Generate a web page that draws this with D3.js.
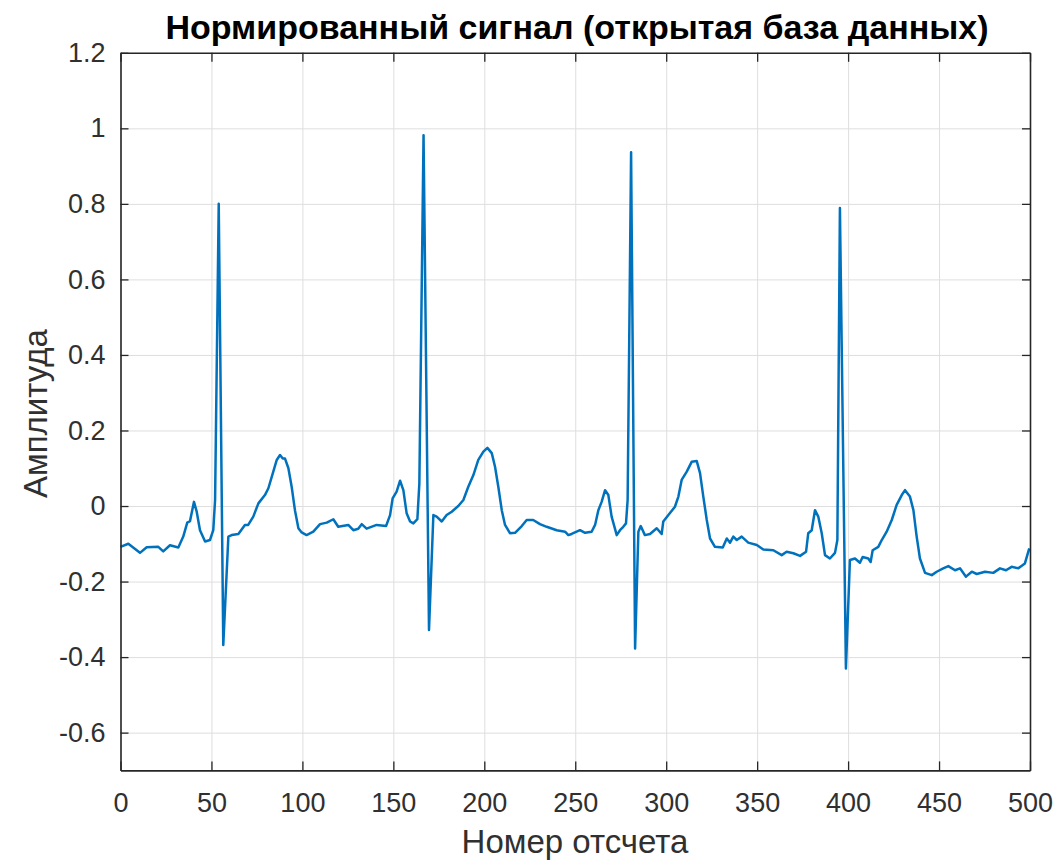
<html>
<head>
<meta charset="utf-8">
<script src="https://d3js.org/d3.v7.min.js"></script>
<style>
body { margin: 0; background: #fff; }
text { font-family: 'Liberation Sans', Arial, sans-serif; }
.axis path, .axis line { stroke: #262626; }
.axis text { fill: #303030; font-size: 27px; }
.grid line { stroke: #dedede; }
.grid path { display: none; }
</style>
</head>
<body>
<svg width="1062" height="862"></svg>
<script>
// signal: sample number and amplitude
var sampleIdx = [0, 4.3, 10.7, 14.4, 20.8, 23.5, 27.2, 31.8, 34.5, 36.7, 38.2, 40.4, 41.9, 43.7, 46.5, 49.2, 51, 52, 54, 56.5,
  59.3, 61.1, 64.8, 68.4, 70.2, 73, 75.8, 79.4, 81.3, 84, 85.9, 87.7, 89.2, 90.4, 92.3, 94.1, 95.9, 97.8, 99.6, 102.3,
  106, 109.7, 113.4, 117, 119.7, 125.2, 128, 130.7, 132.6, 135.3, 140.8, 146, 148.2, 149.6, 151.8, 153.7, 155.5, 157.3, 159.2, 161,
  163.2, 164.3, 166.6, 169.6, 172, 173.8, 176.6, 179.3, 182.1, 185.7, 188.5, 191.2, 194, 196.7, 199.5, 201.7, 204.1, 205.9, 207.7, 209.6,
  211.4, 214.1, 216.9, 220.6, 223.3, 226.9, 230.6, 234.3, 239.8, 244.4, 246.2, 248, 252.6, 255.4, 259, 260.9, 262.7, 264.5, 266.4, 268.2,
  270, 272.8, 274.6, 276.4, 277.9, 278.8, 280.7, 282.9, 284.7, 286, 288.3, 291.1, 294.8, 297.5, 298.4, 301.2, 304.8, 306.7, 308.5, 311.3,
  314, 316.8, 318.6, 320.4, 322.3, 324.1, 326.8, 331.1, 333.3, 335.1, 336.9, 338.8, 341.5, 345.1, 349.8, 353.4, 358.9, 363.5, 366.2, 369.9,
  373.6, 376.9, 378.1, 380, 381.8, 383.6, 385.5, 387.3, 390, 392.8, 394.1, 395.5, 398.8, 401, 403.8, 406.5, 408, 411.1, 412.4, 413.5,
  416.6, 418.5, 421.2, 424, 426.7, 429.5, 431.3, 434, 435.9, 437.7, 439.5, 442.3, 446, 448.7, 452.3, 455.1, 458.8, 461.5, 464.8, 468,
  470.7, 475.3, 479.8, 483.5, 486.8, 489.9, 493.6, 497.2, 499.6];
var amplitude = [-0.108, -0.10, -0.124, -0.109, -0.108, -0.12, -0.104, -0.11, -0.081, -0.044, -0.04, 0.011, -0.015, -0.064, -0.094, -0.09, -0.064, 0.016, 0.80, -0.368,
  -0.081, -0.077, -0.074, -0.05, -0.05, -0.028, 0.007, 0.029, 0.047, 0.091, 0.122, 0.135, 0.126, 0.126, 0.10, 0.051, -0.011, -0.059, -0.07, -0.077,
  -0.068, -0.048, -0.044, -0.035, -0.055, -0.05, -0.064, -0.06, -0.048, -0.06, -0.05, -0.053, -0.024, 0.02, 0.038, 0.067, 0.042, -0.019, -0.041, -0.046,
  -0.035, 0.06, 0.982, -0.328, -0.024, -0.028, -0.041, -0.024, -0.015, 0.0, 0.016, 0.051, 0.082, 0.122, 0.144, 0.154, 0.14, 0.104, 0.051, -0.011,
  -0.05, -0.072, -0.071, -0.053, -0.037, -0.037, -0.048, -0.055, -0.064, -0.068, -0.077, -0.074, -0.064, -0.071, -0.068, -0.05, -0.011, 0.011, 0.042, 0.029,
  -0.028, -0.077, -0.064, -0.055, -0.046, 0.016, 0.937, -0.377, -0.068, -0.053, -0.077, -0.074, -0.059, -0.074, -0.041, -0.024, -0.002, 0.025, 0.069, 0.091,
  0.117, 0.119, 0.087, 0.025, -0.037, -0.086, -0.108, -0.11, -0.086, -0.097, -0.081, -0.09, -0.081, -0.097, -0.103, -0.115, -0.117, -0.13, -0.121, -0.125,
  -0.132, -0.121, -0.072, -0.064, -0.011, -0.028, -0.072, -0.13, -0.139, -0.124, -0.09, 0.789, -0.43, -0.143, -0.139, -0.15, -0.135, -0.139, -0.148, -0.117,
  -0.108, -0.09, -0.068, -0.037, 0.003, 0.029, 0.042, 0.025, -0.011, -0.081, -0.139, -0.177, -0.183, -0.174, -0.165, -0.159, -0.17, -0.165, -0.187, -0.174,
  -0.18, -0.174, -0.177, -0.165, -0.17, -0.161, -0.165, -0.152, -0.112];

var xTicks = [0, 50, 100, 150, 200, 250, 300, 350, 400, 450, 500];
var yTicks = [-0.6, -0.4, -0.2, 0, 0.2, 0.4, 0.6, 0.8, 1, 1.2];
var yTickLabels = ['-0.6', '-0.4', '-0.2', '0', '0.2', '0.4', '0.6', '0.8', '1', '1.2'];

var titleText = 'Нормированный сигнал (открытая база данных)';
var xLabel = 'Номер отсчета';
var yLabel = 'Амплитуда';

var padL = 120.5, padT = 52.8, w = 909.5, h = 717.6;

var svg = d3.select('svg');
var g = svg.append('g').attr('transform', 'translate(' + padL + ',' + padT + ')');

var x = d3.scaleLinear().domain([0, 500]).range([0, w]);
var y = d3.scaleLinear().domain([-0.7, 1.2]).range([h, 0]);

// grid
g.append('g').attr('class', 'grid')
  .attr('transform', 'translate(0,' + h + ')')
  .call(d3.axisBottom(x).tickValues(xTicks).tickSize(-h).tickFormat(''));
g.append('g').attr('class', 'grid')
  .call(d3.axisLeft(y).tickValues(yTicks).tickSize(-w).tickFormat(''));

// signal
var pts = sampleIdx.map(function(d, i) { return [d, amplitude[i]]; });
g.append('path')
  .datum(pts)
  .attr('fill', 'none')
  .attr('stroke', '#0072BD')
  .attr('stroke-width', 2.5)
  .attr('stroke-linejoin', 'round')
  .attr('d', d3.line().x(function(d) { return x(d[0]); }).y(function(d) { return y(d[1]); }));

// axes, ticks inside like the original
g.append('g').attr('class', 'axis').attr('transform', 'translate(0,' + h + ')')
  .call(d3.axisBottom(x).tickValues(xTicks).tickSize(-9).tickPadding(22).tickSizeOuter(0));
g.append('g').attr('class', 'axis')
  .call(d3.axisLeft(y).tickValues(yTicks).tickSize(-8).tickPadding(15).tickSizeOuter(0)
    .tickFormat(function(d, i) { return yTickLabels[i]; }));
g.append('g').attr('class', 'axis')
  .call(d3.axisTop(x).tickValues(xTicks).tickSize(-9).tickFormat('').tickSizeOuter(0));
g.append('g').attr('class', 'axis').attr('transform', 'translate(' + w + ',0)')
  .call(d3.axisRight(y).tickValues(yTicks).tickSize(-8).tickFormat('').tickSizeOuter(0));
g.selectAll('.axis path').attr('stroke-width', 1.6);
g.selectAll('.axis line').attr('stroke-width', 1.3);

svg.append('text')
  .attr('x', 577).attr('y', 39)
  .attr('text-anchor', 'middle')
  .attr('font-weight', 'bold')
  .attr('font-size', 34)
  .attr('fill', '#000')
  .text(titleText);

svg.append('text')
  .attr('x', 575).attr('y', 853)
  .attr('text-anchor', 'middle')
  .attr('font-size', 33)
  .attr('fill', '#303030')
  .text(xLabel);

svg.append('text')
  .attr('transform', 'translate(47,' + (padT + h / 2 + 2) + ') rotate(-90)')
  .attr('text-anchor', 'middle')
  .attr('font-size', 33)
  .attr('fill', '#303030')
  .text(yLabel);
</script>
</body>
</html>
